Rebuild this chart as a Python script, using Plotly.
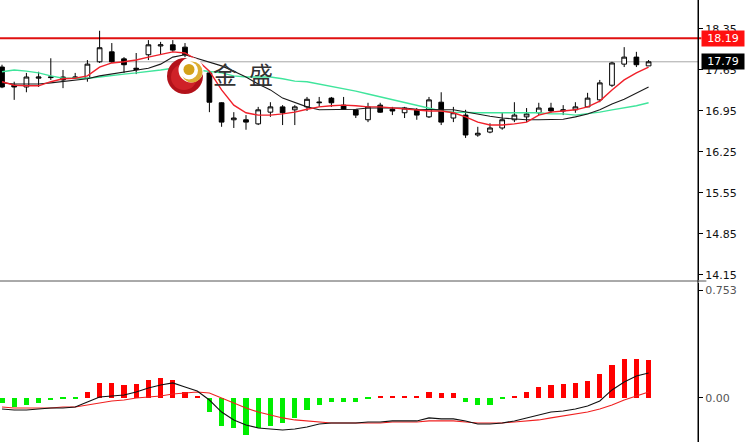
import plotly.graph_objects as go

# ---------------- data ----------------
opens = [17.70, 17.39, 17.36, 17.51, 17.52, 17.53, 17.51, 17.51, 17.79, 17.96,
         17.84, 17.68, 17.91, 18.06, 18.08, 18.04, 17.51, 17.60, 17.09, 16.80,
         16.80, 16.73, 16.93, 17.02, 16.97, 17.02, 17.09, 17.17, 17.05, 16.97,
         16.80, 17.05, 16.98, 16.92, 16.97, 16.85, 17.10, 16.83, 16.88, 16.54,
         16.59, 16.66, 16.80, 16.85, 16.92, 17.00, 16.95, 16.97, 17.02, 17.14,
         17.39, 17.75, 17.87, 17.72]
highs = [17.74, 17.45, 17.60, 17.62, 17.85, 17.65, 17.60, 17.82, 18.32, 18.11,
         17.87, 17.94, 18.16, 18.13, 18.16, 18.11, 17.65, 17.62, 17.10, 16.93,
         16.88, 17.02, 17.10, 17.05, 17.05, 17.19, 17.19, 17.19, 17.19, 16.97,
         17.09, 17.09, 17.02, 17.02, 17.00, 17.19, 17.27, 17.02, 16.97, 16.68,
         16.74, 16.93, 17.10, 17.00, 17.09, 17.09, 17.05, 17.10, 17.26, 17.48,
         17.79, 18.04, 17.96, 17.82]
lows = [17.34, 17.14, 17.27, 17.36, 17.48, 17.34, 17.50, 17.45, 17.77, 17.77,
        17.60, 17.58, 17.82, 17.91, 17.96, 17.87, 17.43, 16.93, 16.68, 16.66,
        16.63, 16.71, 16.85, 16.71, 16.71, 16.95, 17.02, 17.02, 16.97, 16.83,
        16.76, 16.92, 16.88, 16.83, 16.80, 16.83, 16.71, 16.76, 16.49, 16.51,
        16.57, 16.63, 16.76, 16.76, 16.88, 16.92, 16.88, 16.92, 17.02, 17.10,
        17.36, 17.70, 17.70, 17.72]
closes = [17.36, 17.36, 17.53, 17.53, 17.53, 17.48, 17.53, 17.75, 18.03, 17.79,
          17.74, 17.66, 18.08, 18.08, 17.99, 17.91, 17.60, 17.10, 16.76, 16.83,
          16.76, 16.97, 17.02, 16.92, 17.02, 17.15, 17.10, 17.09, 16.98, 16.88,
          17.02, 16.93, 16.95, 17.00, 16.88, 17.14, 16.76, 16.92, 16.54, 16.57,
          16.66, 16.80, 16.88, 16.90, 17.00, 16.95, 16.97, 17.02, 17.17, 17.43,
          17.77, 17.87, 17.74, 17.79]

ma_short = [17.45, 17.39, 17.38, 17.38, 17.45, 17.50, 17.51, 17.55, 17.70, 17.77,
            17.79, 17.82, 17.87, 17.92, 17.96, 17.94, 17.82, 17.63, 17.31, 17.05,
            16.92, 16.88, 16.88, 16.90, 16.93, 16.98, 17.02, 17.04, 17.05, 17.04,
            17.02, 17.02, 17.00, 16.98, 16.97, 16.95, 16.95, 16.92, 16.85, 16.76,
            16.71, 16.71, 16.73, 16.76, 16.88, 16.93, 16.95, 16.97, 17.02, 17.12,
            17.31, 17.48, 17.60, 17.70]
ma_mid = [17.43, 17.41, 17.41, 17.41, 17.43, 17.45, 17.48, 17.50, 17.55, 17.58,
          17.62, 17.65, 17.68, 17.75, 17.87, 17.91, 17.85, 17.79, 17.72, 17.63,
          17.53, 17.41, 17.31, 17.17, 17.09, 17.02, 16.97, 16.97, 16.98, 16.98,
          17.00, 17.00, 17.00, 17.00, 16.98, 16.97, 16.97, 16.97, 16.93, 16.90,
          16.86, 16.83, 16.81, 16.80, 16.80, 16.80, 16.81, 16.85, 16.90, 16.97,
          17.07, 17.15, 17.26, 17.36]
ma_long = [17.62, 17.65, 17.63, 17.60, 17.55, 17.51, 17.51, 17.51, 17.53, 17.56,
           17.58, 17.60, 17.62, 17.65, 17.68, 17.68, 17.65, 17.62, 17.60, 17.55,
           17.53, 17.53, 17.53, 17.50, 17.46, 17.45, 17.41, 17.38, 17.34, 17.29,
           17.24, 17.19, 17.15, 17.10, 17.04, 17.00, 16.95, 16.93, 16.92, 16.92,
           16.92, 16.92, 16.92, 16.92, 16.92, 16.90, 16.90, 16.88, 16.90, 16.93,
           16.97, 17.00, 17.04, 17.09]

macd_hist = [-0.035, -0.063, -0.049, -0.035, -0.014, -0.008, -0.008, 0.042, 0.105, 0.105,
             0.091, 0.098, 0.126, 0.139, 0.126, 0.042, 0.007, -0.098, -0.195, -0.209,
             -0.258, -0.209, -0.195, -0.174, -0.139, -0.084, -0.049, -0.028, -0.028, -0.028,
             -0.007, 0.007, 0.007, 0.014, 0.007, 0.042, 0.035, 0.035, -0.028, -0.049,
             -0.049, -0.007, 0.007, 0.042, 0.077, 0.091, 0.098, 0.105, 0.119, 0.167,
             0.230, 0.272, 0.272, 0.265]
macd_dif = [-0.077, -0.084, -0.084, -0.077, -0.070, -0.070, -0.063, -0.028, 0.007, 0.014,
            0.021, 0.042, 0.070, 0.091, 0.105, 0.077, 0.049, -0.014, -0.098, -0.153,
            -0.188, -0.209, -0.216, -0.223, -0.216, -0.202, -0.181, -0.174, -0.174, -0.174,
            -0.167, -0.167, -0.160, -0.160, -0.160, -0.139, -0.146, -0.146, -0.160, -0.181,
            -0.181, -0.174, -0.160, -0.139, -0.119, -0.098, -0.091, -0.077, -0.056, -0.021,
            0.056, 0.112, 0.153, 0.174]
macd_dea = [-0.063, -0.070, -0.070, -0.070, -0.070, -0.063, -0.063, -0.049, -0.035, -0.021,
            -0.014, 0.000, 0.007, 0.014, 0.028, 0.035, 0.042, 0.035, 0.000, -0.035,
            -0.070, -0.098, -0.119, -0.139, -0.153, -0.160, -0.167, -0.174, -0.174, -0.174,
            -0.174, -0.174, -0.167, -0.167, -0.167, -0.160, -0.160, -0.160, -0.167, -0.174,
            -0.174, -0.174, -0.167, -0.160, -0.153, -0.139, -0.126, -0.112, -0.098, -0.077,
            -0.049, -0.014, 0.014, 0.042]

price_ticks = [14.15, 14.85, 15.55, 16.25, 16.95, 17.65, 18.35]
macd_ticks = [0.0, 0.753]
resistance_level = 18.19
last_price = 17.79

idx = list(range(len(closes)))

# ---------------- figure ----------------
fig = go.Figure()

fig.add_trace(go.Candlestick(
    x=idx, open=opens, high=highs, low=lows, close=closes,
    increasing=dict(line=dict(color="#000000", width=1), fillcolor="#ffffff"),
    decreasing=dict(line=dict(color="#000000", width=1), fillcolor="#000000"),
    whiskerwidth=0, xaxis="x", yaxis="y", showlegend=False, hoverinfo="skip"))

for vals, col, w in [(ma_long, "#3fe59c", 1.4), (ma_mid, "#1a1a1a", 1.1), (ma_short, "#f0202a", 1.4)]:
    fig.add_trace(go.Scatter(x=idx, y=vals, mode="lines", line=dict(color=col, width=w),
                             xaxis="x", yaxis="y", showlegend=False, hoverinfo="skip"))

bar_colors = ["#ff0000" if v >= 0 else "#00ee00" for v in macd_hist]
fig.add_trace(go.Bar(x=idx, y=macd_hist, marker=dict(color=bar_colors, line=dict(width=0)),
                     width=0.42, xaxis="x", yaxis="y2", showlegend=False, hoverinfo="skip"))
fig.add_trace(go.Scatter(x=idx, y=macd_dea, mode="lines", line=dict(color="#f02020", width=1.1),
                         xaxis="x", yaxis="y2", showlegend=False, hoverinfo="skip"))
fig.add_trace(go.Scatter(x=idx, y=macd_dif, mode="lines", line=dict(color="#111111", width=1.1),
                         xaxis="x", yaxis="y2", showlegend=False, hoverinfo="skip"))

W, H = 745, 442
PLOT_R = 698
price_dom = [1 - 280 / H, 1]
macd_dom = [0, 1 - 283 / H]

tickfont = dict(family="DejaVu Sans", size=11, color="#111111")

fig.update_layout(
    width=W, height=H,
    margin=dict(l=0, r=W - PLOT_R, t=0, b=0, autoexpand=False),
    paper_bgcolor="white", plot_bgcolor="white",
    boxgap=0.45,
    bargap=0,
    showlegend=False,
    xaxis=dict(range=[-0.164, 57.05], visible=False, rangeslider=dict(visible=False),
               anchor="y2", fixedrange=True),
    yaxis=dict(domain=price_dom, range=[14.0645, 18.845], side="right",
               tickvals=price_ticks, ticktext=[f"{v:.2f}" for v in price_ticks],
               ticks="outside", ticklen=4, tickcolor="#000", showgrid=False, zeroline=False,
               showline=True, linecolor="#000", linewidth=1, tickfont=tickfont, anchor="x"),
    yaxis2=dict(domain=macd_dom, range=[-0.307, 0.802], side="right",
                tickvals=macd_ticks, ticktext=["0.00", "0.753"],
                ticks="outside", ticklen=4, tickcolor="#000", showgrid=False, zeroline=False,
                showline=True, linecolor="#000", linewidth=1,
                tickfont=dict(family="DejaVu Sans", size=11, color="#555555"), anchor="x"),
)

shapes = []
# last price gray line and resistance red line
shapes.append(dict(type="line", xref="paper", yref="y", x0=0, x1=1, y0=last_price, y1=last_price,
                   line=dict(color="#a8a8a8", width=1), layer="below"))
shapes.append(dict(type="line", xref="paper", yref="y", x0=0, x1=1.005, y0=resistance_level,
                   y1=resistance_level, line=dict(color="#e01010", width=2), layer="below"))
# panel divider and continuous right axis line
div_y = 1 - 281 / H
shapes.append(dict(type="line", xref="paper", yref="paper", x0=0, x1=1.012, y0=div_y, y1=div_y,
                   line=dict(color="#555555", width=1)))
shapes.append(dict(type="line", xref="paper", yref="paper", x0=1, x1=1, y0=0, y1=1,
                   line=dict(color="#000000", width=1)))


def px_circle(cx, cy, r, color):
    return dict(type="circle", xref="paper", yref="paper",
                x0=(cx - r) / PLOT_R, x1=(cx + r) / PLOT_R,
                y0=1 - (cy + r) / H, y1=1 - (cy - r) / H,
                fillcolor=color, line=dict(width=0), layer="above")


# logo: red crescent with a gold ring and ball
shapes.append(px_circle(185, 76, 18, "#b3121a"))
shapes.append(px_circle(184, 77, 13, "#cf2228"))
shapes.append(px_circle(191, 70, 12.5, "#ffffff"))
shapes.append(px_circle(192, 72, 10.5, "#dcae33"))
shapes.append(px_circle(189, 70.5, 9, "#ffffff"))
shapes.append(px_circle(189, 69.5, 5.5, "#d4a21a"))
fig.update_layout(shapes=shapes)

annotations = [
    dict(text="金\u2002盛", xref="paper", yref="paper", x=243 / PLOT_R, y=1 - 74 / H,
         xanchor="center", yanchor="middle", showarrow=False,
         font=dict(family="Noto Sans CJK SC", size=24, color="#333333")),
    dict(text=f"{resistance_level:.2f}", xref="paper", yref="y", x=1.004, y=resistance_level,
         xanchor="left", yanchor="middle", showarrow=False, bgcolor="#ff1010",
         font=dict(family="DejaVu Sans", size=11, color="white"), borderpad=1, width=40),
    dict(text=f"{last_price:.2f}", xref="paper", yref="y", x=1.004, y=last_price,
         xanchor="left", yanchor="middle", showarrow=False, bgcolor="#000000",
         font=dict(family="DejaVu Sans", size=11, color="white"), borderpad=1, width=40),
]
fig.update_layout(annotations=annotations)

fig.write_html("out.html", config={"displayModeBar": False},
               post_script="document.body.style.margin='0';document.body.style.overflow='hidden';")
